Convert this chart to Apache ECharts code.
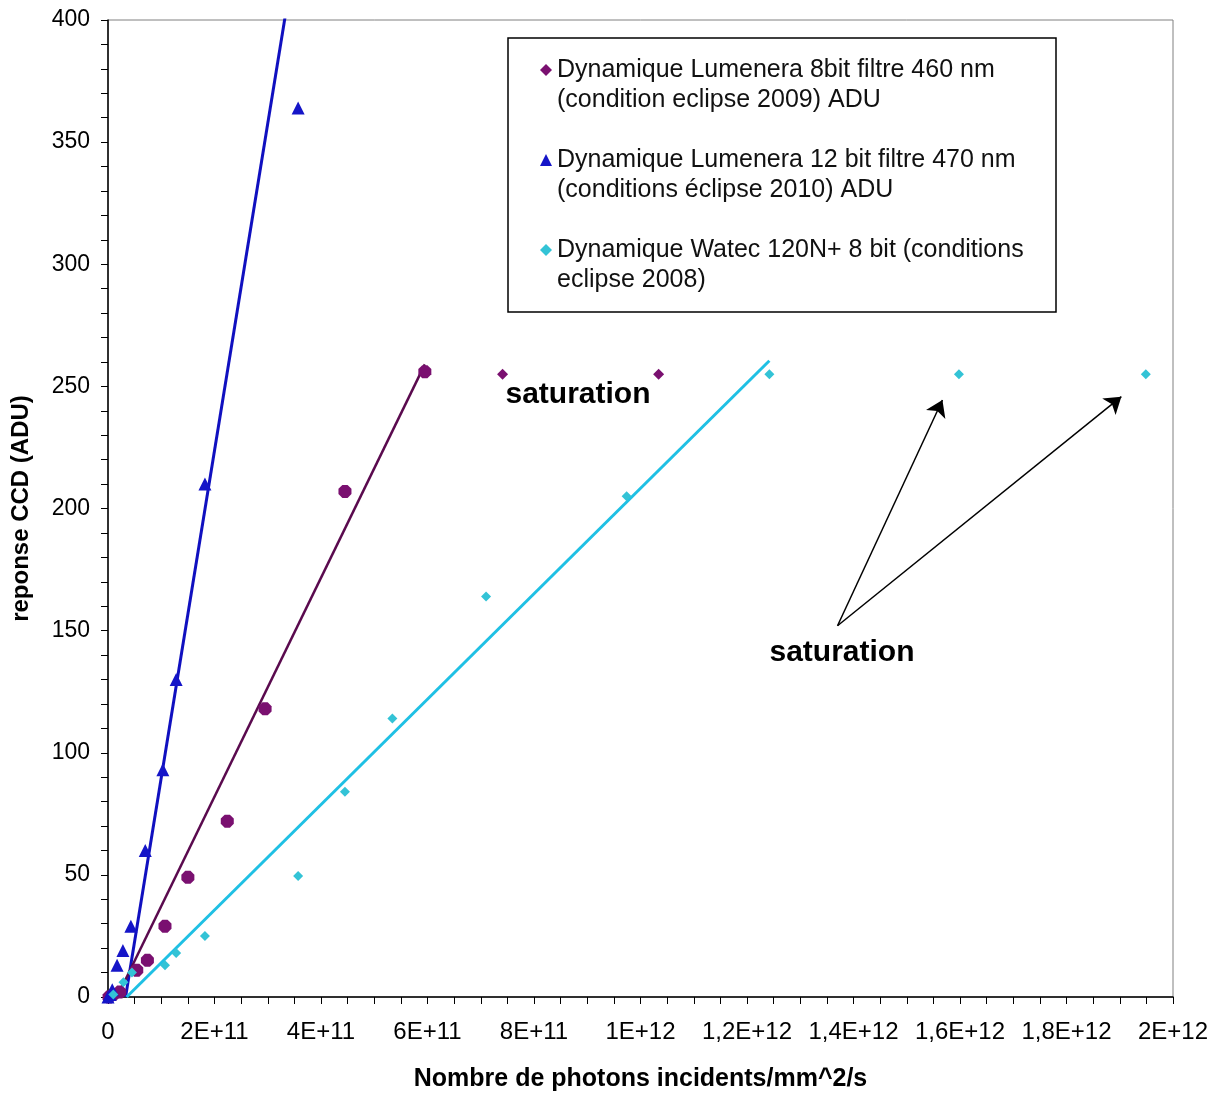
<!DOCTYPE html>
<html>
<head>
<meta charset="utf-8">
<script src="https://cdn.jsdelivr.net/npm/echarts@6/dist/echarts.min.js"></script>
<style>html,body{margin:0;padding:0;background:#fff}#c{width:1221px;height:1093px}</style>
</head>
<body>
<div id="c"></div>
<script>
// ---- data (x: photons/mm^2/s, y: ADU) ----
const seriesNames = [
  'Dynamique Lumenera 8bit filtre 460 nm\n(condition eclipse 2009) ADU',
  'Dynamique Lumenera 12 bit filtre 470 nm\n(conditions éclipse 2010) ADU',
  'Dynamique Watec 120N+ 8 bit (conditions\neclipse 2008)'
];
const lumenera8 = [
  [0.02e11, 0], [0.1e11, 1], [0.22e11, 2], [0.54e11, 11], [0.74e11, 15],
  [1.07e11, 29], [1.50e11, 49], [2.24e11, 72], [2.95e11, 118], [4.45e11, 207],
  [5.95e11, 256], [7.41e11, 255], [10.34e11, 255]
];
const lumenera12 = [
  [0, 0], [0.04e11, 1], [0.08e11, 3], [0.17e11, 13], [0.28e11, 19], [0.43e11, 29],
  [0.70e11, 60], [1.03e11, 93], [1.28e11, 130], [1.82e11, 210], [3.57e11, 364]
];
const watec = [
  [0.1e11, 1], [0.29e11, 6], [0.45e11, 10], [1.07e11, 13], [1.28e11, 18], [1.82e11, 25],
  [3.57e11, 49.5], [4.45e11, 84], [5.34e11, 114], [7.10e11, 164], [9.74e11, 205],
  [12.42e11, 255], [15.98e11, 255], [19.49e11, 255]
];
// linear trend lines (start, end) in data units
const trend8 = [[0.17e11, 0], [5.95e11, 259]];
const trend12 = [[0.33e11, 0], [3.57e11, 434]];
const trendWatec = [[0.35e11, 0], [12.42e11, 260.5]];
// annotation arrows (tail -> head) in data units
const arrowTail = [13.70e11, 152];
const arrowHeads = [[15.67e11, 244.4], [19.03e11, 245.8]];
const xTickLabels = ['0','2E+11','4E+11','6E+11','8E+11','1E+12','1,2E+12','1,4E+12','1,6E+12','1,8E+12','2E+12'];
const yTickLabels = ['0','50','100','150','200','250','300','350','400'];

const FONT = '"Liberation Sans", Arial, sans-serif';
const octagon = 'path://M3,0 L7,0 L10,3 L10,7 L7,10 L3,10 L0,7 L0,3 Z';
const fitEnd8 = trend8[1][0];

const chart = echarts.init(document.getElementById('c'), null, {renderer: 'canvas'});
chart.setOption({
  animation: false,
  backgroundColor: '#fff',
  grid: {left: 108, right: 48, top: 20, bottom: 96, outerBoundsMode: 'none', containLabel: false,
    show: true, borderColor: '#808080', borderWidth: 1, backgroundColor: 'transparent'},
  xAxis: {
    type: 'value', min: 0, max: 2e12, interval: 2e11,
    name: 'Nombre de photons incidents/mm^2/s', nameLocation: 'middle', nameGap: 70,
    nameTextStyle: {fontFamily: FONT, fontWeight: 'bold', fontSize: 25, color: '#000'},
    axisLine: {lineStyle: {color: '#000', width: 1.5}},
    axisTick: {show: true, inside: false, length: 7, lineStyle: {color: '#000'}},
    minorTick: {show: true, splitNumber: 4, length: 7, lineStyle: {color: '#000'}},
    splitLine: {show: false},
    axisLabel: {fontFamily: FONT, fontSize: 24, color: '#000', margin: 23,
      formatter: v => xTickLabels[Math.round(v / 2e11)]}
  },
  yAxis: {
    type: 'value', min: 0, max: 400, interval: 50,
    name: 'reponse CCD (ADU)', nameLocation: 'middle', nameGap: 75,
    nameTextStyle: {fontFamily: FONT, fontWeight: 'bold', fontSize: 24, color: '#000'},
    axisLine: {show: true, lineStyle: {color: '#000', width: 1.5}},
    axisTick: {show: true, inside: false, length: 7, lineStyle: {color: '#000'}},
    minorTick: {show: true, splitNumber: 5, length: 7, lineStyle: {color: '#000'}},
    splitLine: {show: false},
    axisLabel: {fontFamily: FONT, fontSize: 23, color: '#000', margin: 18,
      formatter: v => yTickLabels[Math.round(v / 50)]}
  },
  legend: {
    orient: 'vertical', left: 540, top: 25, padding: 0, itemGap: 0,
    itemWidth: 12, itemHeight: 12,
    data: [
      {name: seriesNames[0], icon: 'diamond', itemStyle: {color: '#7a1070'}},
      {name: seriesNames[1], icon: 'triangle', itemStyle: {color: '#1515c8'}},
      {name: seriesNames[2], icon: 'diamond', itemStyle: {color: '#33c3d6'}}
    ],
    // a blank first line keeps the marker level with the first text line
    formatter: name => '\n' + name,
    textStyle: {fontFamily: FONT, fontSize: 25, color: '#111', lineHeight: 30}
  },
  graphic: [
    {type: 'rect', z: 1, shape: {x: 508, y: 38, width: 548, height: 274},
      style: {fill: '#fff', stroke: '#000', lineWidth: 1.5}},
    {type: 'text', z: 10, x: 578, y: 395, style: {text: 'saturation', font: 'bold 30px ' + FONT, fill: '#000', textAlign: 'center', textVerticalAlign: 'middle'}},
    {type: 'text', z: 10, x: 842, y: 653, style: {text: 'saturation', font: 'bold 30px ' + FONT, fill: '#000', textAlign: 'center', textVerticalAlign: 'middle'}}
  ],
  series: [
    {type: 'line', data: trend12, symbol: 'none', silent: true, lineStyle: {color: '#1010c0', width: 3}, z: 2},
    {type: 'line', data: trend8, symbol: 'none', silent: true, lineStyle: {color: '#5a0a4e', width: 2.5}, z: 2},
    {type: 'line', data: trendWatec, symbol: 'none', silent: true, lineStyle: {color: '#1fc0e4', width: 3}, z: 2},
    {name: seriesNames[0], type: 'scatter', data: lumenera8, z: 4,
      symbol: v => v[0] <= fitEnd8 ? octagon : 'diamond',
      symbolSize: v => v[0] <= fitEnd8 ? 13 : 11,
      itemStyle: {color: '#7a1070', opacity: 1}},
    {name: seriesNames[1], type: 'scatter', data: lumenera12, z: 4, symbol: 'triangle', symbolSize: 13,
      itemStyle: {color: '#1515c8', opacity: 1}},
    {name: seriesNames[2], type: 'scatter', data: watec, z: 4, symbol: 'diamond', symbolSize: 10,
      itemStyle: {color: '#33c3d6', opacity: 1},
      markLine: {
        silent: true, symbol: ['none', 'arrow'], symbolSize: 16, precision: 20,
        label: {show: false},
        lineStyle: {color: '#000', width: 1.5, type: 'solid'},
        data: arrowHeads.map(h => [{coord: arrowTail}, {coord: h}])
      }}
  ]
});
</script>
</body>
</html>
